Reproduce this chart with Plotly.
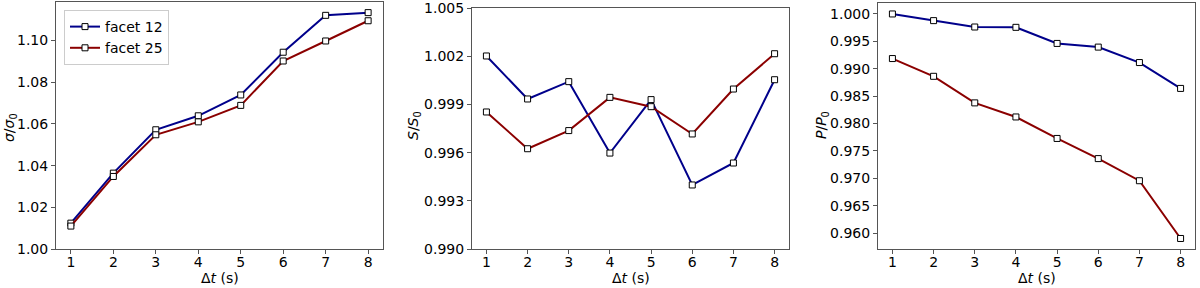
import plotly.graph_objects as go

dt = [1, 2, 3, 4, 5, 6, 7, 8]

sigma_f12 = [1.0124, 1.0364, 1.0572, 1.0639, 1.0739, 1.0944, 1.1121, 1.1134]
sigma_f25 = [1.0110, 1.0348, 1.0548, 1.0610, 1.0689, 1.0902, 1.0998, 1.1095]

s_f12 = [1.00203, 0.99935, 1.00043, 0.99598, 0.99931, 0.99399, 0.99536, 1.00055]
s_f25 = [0.99854, 0.99625, 0.99738, 0.99945, 0.99887, 0.99717, 0.99997, 1.00217]

p_f12 = [1.0000, 0.99878, 0.99762, 0.99756, 0.99462, 0.99395, 0.99113, 0.98641]
p_f25 = [0.99186, 0.98862, 0.98377, 0.98120, 0.97728, 0.97360, 0.96956, 0.95902]

series_names = ["facet 12", "facet 25"]
colors = ["#00008B", "#8B0000"]

W, H = 1200, 288
FONT = "DejaVu Sans"

fig = go.Figure()

panels = [
    (sigma_f12, sigma_f25, "x", "y"),
    (s_f12, s_f25, "x2", "y2"),
    (p_f12, p_f25, "x3", "y3"),
]

for i, (a, b, xa, ya) in enumerate(panels):
    for j, vals in enumerate([a, b]):
        fig.add_trace(go.Scatter(
            x=dt, y=vals, xaxis=xa, yaxis=ya,
            mode="lines+markers",
            name=series_names[j],
            showlegend=(i == 0),
            line=dict(color=colors[j], width=2),
            marker=dict(symbol="square", size=6, color="white",
                        line=dict(color="black", width=1)),
        ))

def px_x(v):
    return v / W

def px_y(v):
    return (H - v) / H

axis_common = dict(
    showline=True, mirror=True, linecolor="#555555", linewidth=1,
    ticks="outside", ticklen=4, tickcolor="#555555", tickwidth=1,
    showgrid=False, zeroline=False, automargin=False,
    tickfont=dict(family=FONT, size=14, color="black"),
)

xdoms = [(56, 383), (472, 789), (878, 1195)]
ytops = [2, 8, 3]
ybottom = 249
yranges = [[1.0, 1.1185], [0.99, 1.00502], [0.9571, 1.0020]]
ytickvals = [
    [1.00, 1.02, 1.04, 1.06, 1.08, 1.10],
    [0.990, 0.993, 0.996, 0.999, 1.002, 1.005],
    [0.960, 0.965, 0.970, 0.975, 0.980, 0.985, 0.990, 0.995, 1.000],
]
yfmts = [".2f", ".3f", ".3f"]
ytitles = ["<i>σ</i>/<i>σ</i><sub>0</sub>", "<i>S</i>/<i>S</i><sub>0</sub>", "<i>P</i>/<i>P</i><sub>0</sub>"]
ytitle_x = [10, 414, 822]
ytitle_y = [128, 125, 125]
xtitle_y = 278

layout = dict(
    width=W, height=H,
    margin=dict(l=0, r=0, t=0, b=0, pad=0),
    paper_bgcolor="white", plot_bgcolor="white",
    font=dict(family=FONT, size=14, color="black"),
    legend=dict(
        x=px_x(64), y=px_y(10), xanchor="left", yanchor="top",
        bgcolor="white", bordercolor="#cccccc", borderwidth=1,
        font=dict(family=FONT, size=14, color="black"),
        tracegroupgap=0, itemwidth=30,
    ),
)

annotations = []
for i in range(3):
    sfx = "" if i == 0 else str(i + 1)
    layout["xaxis" + sfx] = dict(
        axis_common,
        domain=[px_x(xdoms[i][0]), px_x(xdoms[i][1])],
        range=[0.65, 8.35],
        tickvals=dt,
        anchor="y" + sfx,
        ticklabelstandoff=-4,
    )
    layout["yaxis" + sfx] = dict(
        axis_common,
        domain=[px_y(ybottom), px_y(ytops[i])],
        range=yranges[i],
        tickvals=ytickvals[i],
        tickformat=yfmts[i],
        anchor="x" + sfx,
    )
    annotations.append(dict(
        text="Δ<i>t</i> (s)", xref="paper", yref="paper",
        x=px_x((xdoms[i][0] + xdoms[i][1]) / 2), y=px_y(xtitle_y),
        xanchor="center", yanchor="middle", showarrow=False,
        font=dict(family=FONT, size=14, color="black"),
    ))
    annotations.append(dict(
        text=ytitles[i], xref="paper", yref="paper",
        x=px_x(ytitle_x[i]), y=px_y(ytitle_y[i]),
        xanchor="center", yanchor="middle", showarrow=False, textangle=-90,
        font=dict(family=FONT, size=14, color="black"),
    ))

layout["annotations"] = annotations
fig.update_layout(**layout)
fig.write_html(
    "out.html",
    config={"displayModeBar": False},
    post_script="document.body.style.margin='0';document.body.style.overflow='hidden';",
)
